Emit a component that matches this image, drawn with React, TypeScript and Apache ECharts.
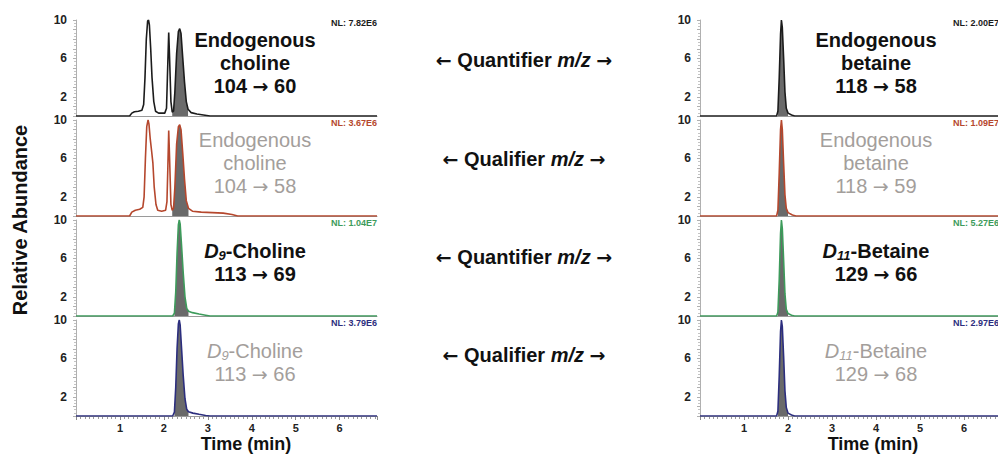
import { useEffect, useRef } from 'react';
import * as echarts from 'echarts';

const FONT = 'Liberation Sans, Arial, Helvetica, sans-serif';
const ARROW_FONT = 'DejaVu Sans, Liberation Sans, sans-serif';

// ---- data: [time (min), relative abundance] ----
const cholineQuantifier: number[][] = [
  [0, 0], [1.22, 0], [1.27, 0.3], [1.33, 0.45], [1.42, 0.5], [1.5, 0.6], [1.54, 1.2], [1.57, 4], [1.6, 8],
  [1.63, 9.9], [1.65, 10], [1.67, 9.5], [1.7, 7], [1.73, 4], [1.77, 1.5], [1.81, 0.5], [1.88, 0.3], [2.02, 0.3],
  [2.06, 0.8], [2.08, 4], [2.11, 8.7], [2.13, 6], [2.16, 1.5], [2.19, 0.4], [2.22, 0.5], [2.25, 2.5], [2.29, 6.5],
  [2.33, 8.8], [2.36, 9.1], [2.39, 8.6], [2.43, 6], [2.47, 3.5], [2.51, 1.5], [2.55, 0.7], [2.62, 0.35],
  [2.75, 0.2], [2.9, 0.1], [3.05, 0], [6.85, 0],
];
const cholineQualifier: number[][] = [
  [0, 0], [1.22, 0], [1.27, 0.4], [1.35, 0.6], [1.45, 0.7], [1.52, 0.9], [1.55, 2], [1.58, 6], [1.61, 9.3],
  [1.64, 10], [1.66, 9.6], [1.69, 8], [1.72, 6.8], [1.75, 5.5], [1.78, 3], [1.82, 1.2], [1.86, 0.6], [1.95, 0.5],
  [2.04, 0.6], [2.07, 1.5], [2.09, 5], [2.11, 8.9], [2.13, 6], [2.16, 1.2], [2.19, 0.6], [2.22, 0.8], [2.25, 3],
  [2.29, 7.5], [2.33, 9.3], [2.36, 9.5], [2.39, 9], [2.43, 6.5], [2.47, 3.8], [2.51, 1.6], [2.56, 0.8],
  [2.65, 0.5], [2.85, 0.4], [3.1, 0.35], [3.35, 0.3], [3.55, 0.15], [3.68, 0], [6.85, 0],
];
const d9CholineQuantifier: number[][] = [
  [0, 0], [2.2, 0], [2.24, 0.3], [2.27, 2.5], [2.3, 6.5], [2.33, 9.5], [2.35, 10], [2.37, 9.6], [2.4, 7.5],
  [2.44, 4.5], [2.48, 2], [2.52, 0.8], [2.56, 0.5], [2.65, 0.35], [2.8, 0.2], [2.95, 0.08], [3.05, 0], [6.85, 0],
];
const d9CholineQualifier: number[][] = [
  [0, 0], [2.2, 0], [2.24, 0.4], [2.27, 3], [2.3, 7], [2.33, 9.6], [2.35, 10], [2.37, 9.5], [2.4, 7.2],
  [2.44, 4.2], [2.48, 1.8], [2.52, 0.7], [2.56, 0.45], [2.66, 0.3], [2.8, 0.18], [2.95, 0.06], [3.05, 0], [6.85, 0],
];
const betaineQuantifier: number[][] = [
  [0, 0], [1.74, 0], [1.77, 0.5], [1.8, 4], [1.83, 8.5], [1.85, 10], [1.87, 9.2], [1.9, 6], [1.93, 2.5],
  [1.96, 0.8], [2.0, 0.3], [2.08, 0.1], [2.15, 0], [6.77, 0],
];
const betaineQualifier: number[][] = [
  [0, 0], [1.74, 0], [1.77, 0.6], [1.8, 4.5], [1.83, 9], [1.85, 10], [1.87, 9], [1.9, 5.5], [1.93, 2.2],
  [1.96, 0.8], [2.0, 0.35], [2.1, 0.1], [2.18, 0], [6.77, 0],
];
const d11BetaineQuantifier: number[][] = [
  [0, 0], [1.74, 0], [1.77, 0.4], [1.8, 3.8], [1.83, 8.6], [1.85, 10], [1.87, 9.1], [1.9, 5.8], [1.93, 2.3],
  [1.96, 0.7], [2.0, 0.25], [2.08, 0.08], [2.15, 0], [6.77, 0],
];
const d11BetaineQualifier: number[][] = [
  [0, 0], [1.74, 0], [1.77, 0.5], [1.8, 4.2], [1.83, 8.8], [1.85, 10], [1.87, 9.3], [1.9, 6.2], [1.93, 2.6],
  [1.96, 0.9], [2.0, 0.3], [2.08, 0.1], [2.15, 0], [6.77, 0],
];

// shaded (integrated) peak windows [start, end] in minutes
const cholineShade = [2.19, 2.56];
const d9CholineShade = [2.23, 2.56];
const betaineShade = [1.77, 2.0];

const nlLeft = ['NL: 7.82E6', 'NL: 3.67E6', 'NL: 1.04E7', 'NL: 3.79E6'];
const nlRight = ['NL: 2.00E7', 'NL: 1.09E7', 'NL: 5.27E6', 'NL: 2.97E6'];

const X_LABELS = [1, 2, 3, 4, 5, 6];
const Y_LABELS = [2, 6, 10];
const X_MAX_LEFT = 6.85;
const X_MAX_RIGHT = 6.77;

const TRACE_COLORS = ['#1c1c1c', '#b5472d', '#3d9b5b', '#2c2e7e'];
const BLACK = '#111111';
const GREY = '#a39e9b';
const SHADE = '#6a6a6a';

export default function App() {
  const ref = useRef<HTMLDivElement>(null);

  useEffect(() => {
    document.body.style.margin = '0';
    if (!ref.current) return;
    const chart = echarts.init(ref.current, null, { renderer: 'svg' });

    const leftTraces = [cholineQuantifier, cholineQualifier, d9CholineQuantifier, d9CholineQualifier];
    const rightTraces = [betaineQuantifier, betaineQualifier, d11BetaineQuantifier, d11BetaineQualifier];
    const leftShades = [cholineShade, cholineShade, d9CholineShade, d9CholineShade];
    const rightShades = [betaineShade, betaineShade, betaineShade, betaineShade];

    const grids: any[] = [];
    const xAxes: any[] = [];
    const yAxes: any[] = [];
    const series: any[] = [];

    const panels: any[] = [];
    for (let side = 0; side < 2; side++) {
      for (let row = 0; row < 4; row++) {
        panels.push({
          side,
          row,
          trace: side === 0 ? leftTraces[row] : rightTraces[row],
          shade: side === 0 ? leftShades[row] : rightShades[row],
        });
      }
    }

    panels.forEach((p, i) => {
      const bottom = p.row === 3;
      grids.push({
        left: p.side === 0 ? 76 : 700,
        width: p.side === 0 ? 301 : 298,
        top: 20 + 100 * p.row,
        height: 96,
      });
      xAxes.push({
        gridIndex: i,
        type: 'value',
        min: 0,
        max: p.side === 0 ? X_MAX_LEFT : X_MAX_RIGHT,
        interval: 1,
        splitLine: { show: false },
        axisLine: { show: true, onZero: false, lineStyle: { color: '#9a9a9a', width: 1 } },
        axisTick: { show: bottom, length: 4, lineStyle: { color: '#8a8a8a' } },
        minorTick: { show: bottom, splitNumber: 10, length: 3, lineStyle: { color: '#9a9a9a' } },
        axisLabel: {
          show: bottom,
          formatter: (v: number) => (X_LABELS.includes(v) ? String(v) : ''),
          fontFamily: FONT,
          fontWeight: 'bold',
          fontSize: 11,
          color: '#222',
          margin: 6,
          showMaxLabel: false,
        },
      });
      yAxes.push({
        gridIndex: i,
        type: 'value',
        min: 0,
        max: 10,
        interval: 1,
        splitLine: { show: false },
        axisLine: { show: true, onZero: false, lineStyle: { color: '#b0b0b0', width: 1 } },
        axisTick: { show: true, length: 3, lineStyle: { color: '#b0b0b0' } },
        minorTick: { show: true, splitNumber: 3, length: 2, lineStyle: { color: '#c4c4c4' } },
        axisLabel: {
          formatter: (v: number) => (Y_LABELS.includes(v) ? String(v) : ''),
          fontFamily: FONT,
          fontWeight: 'bold',
          fontSize: 12,
          color: '#222',
          margin: 9,
        },
      });
      const [s, e] = p.shade;
      series.push({
        type: 'line',
        xAxisIndex: i,
        yAxisIndex: i,
        data: p.trace.filter((d: number[]) => d[0] >= s && d[0] <= e),
        symbol: 'none',
        silent: true,
        lineStyle: { width: 0 },
        areaStyle: { color: SHADE, opacity: 1 },
        z: 2,
      });
      series.push({
        type: 'line',
        xAxisIndex: i,
        yAxisIndex: i,
        data: p.trace,
        symbol: 'none',
        silent: true,
        lineStyle: { color: TRACE_COLORS[p.row], width: 1.6 },
        z: 3,
      });
    });

    const graphics: any[] = [];
    const txt = (x: number, y: number, text: string, style: any) =>
      graphics.push({
        type: 'text',
        x,
        y,
        silent: true,
        style: { text, align: 'center', verticalAlign: 'middle', fontFamily: FONT, ...style },
      });

    // NL labels
    for (let r = 0; r < 4; r++) {
      graphics.push({
        type: 'text', x: 377, y: 23 + 100 * r, silent: true,
        style: { text: nlLeft[r], align: 'right', verticalAlign: 'middle', fontFamily: FONT, fontWeight: 'bold', fontSize: 9, fill: TRACE_COLORS[r] },
      });
      graphics.push({
        type: 'text', x: 999, y: 23 + 100 * r, silent: true,
        style: { text: nlRight[r], align: 'right', verticalAlign: 'middle', fontFamily: FONT, fontWeight: 'bold', fontSize: 9, fill: TRACE_COLORS[r] },
      });
    }

    const mkRich = (color: string, bold: boolean) => ({
      n: { fontFamily: FONT, fontSize: 20, fontWeight: bold ? 'bold' : 'normal', fill: color, lineHeight: 23 },
      a: { fontFamily: ARROW_FONT, fontSize: 19, fontWeight: bold ? 'bold' : 'normal', fill: color, lineHeight: 23 },
      i: { fontFamily: FONT, fontSize: 20, fontWeight: bold ? 'bold' : 'normal', fontStyle: 'italic', fill: color, lineHeight: 23 },
      s: { fontFamily: FONT, fontSize: 13, fontWeight: bold ? 'bold' : 'normal', fontStyle: 'italic', fill: color, lineHeight: 14, verticalAlign: 'bottom' },
    });

    // panel labels, left
    txt(255, 63, '{n|Endogenous}\n{n|choline}\n{n|104 }{a|→}{n| 60}', { rich: mkRich(BLACK, true) });
    txt(255, 163, '{n|Endogenous}\n{n|choline}\n{n|104 }{a|→}{n| 58}', { rich: mkRich(GREY, false) });
    txt(255, 262, '{i|D}{s|9}{n|-Choline}\n{n|113 }{a|→}{n| 69}', { rich: mkRich(BLACK, true) });
    txt(255, 362, '{i|D}{s|9}{n|-Choline}\n{n|113 }{a|→}{n| 66}', { rich: mkRich(GREY, false) });
    // panel labels, right
    txt(876, 63, '{n|Endogenous}\n{n|betaine}\n{n|118 }{a|→}{n| 58}', { rich: mkRich(BLACK, true) });
    txt(876, 163, '{n|Endogenous}\n{n|betaine}\n{n|118 }{a|→}{n| 59}', { rich: mkRich(GREY, false) });
    txt(876, 262, '{i|D}{s|11}{n|-Betaine}\n{n|129 }{a|→}{n| 66}', { rich: mkRich(BLACK, true) });
    txt(876, 362, '{i|D}{s|11}{n|-Betaine}\n{n|129 }{a|→}{n| 68}', { rich: mkRich(GREY, false) });

    // middle labels
    const midRich = {
      n: { fontFamily: FONT, fontSize: 20, fontWeight: 'bold', fill: BLACK },
      a: { fontFamily: ARROW_FONT, fontSize: 19, fontWeight: 'bold', fill: BLACK },
      i: { fontFamily: FONT, fontSize: 20, fontWeight: 'bold', fontStyle: 'italic', fill: BLACK },
    };
    txt(524, 60, '{a|←}{n| Quantifier }{i|m/z}{n| }{a|→}', { rich: midRich });
    txt(524, 159, '{a|←}{n| Qualifier }{i|m/z}{n| }{a|→}', { rich: midRich });
    txt(524, 257, '{a|←}{n| Quantifier }{i|m/z}{n| }{a|→}', { rich: midRich });
    txt(524, 355, '{a|←}{n| Qualifier }{i|m/z}{n| }{a|→}', { rich: midRich });

    // axis titles
    graphics.push({
      type: 'text', x: 20, y: 220, rotation: Math.PI / 2, silent: true,
      style: { text: 'Relative Abundance', align: 'center', verticalAlign: 'middle', fontFamily: FONT, fontWeight: 'bold', fontSize: 20, fill: BLACK },
    });
    txt(246, 444, 'Time (min)', { fontWeight: 'bold', fontSize: 18, fill: BLACK });
    txt(873, 444, 'Time (min)', { fontWeight: 'bold', fontSize: 18, fill: BLACK });

    chart.setOption({
      animation: false,
      backgroundColor: '#ffffff',
      grid: grids,
      xAxis: xAxes,
      yAxis: yAxes,
      series,
      graphic: graphics,
    });

    return () => chart.dispose();
  }, []);

  return <div ref={ref} style={{ width: 998, height: 454 }} />;
}
